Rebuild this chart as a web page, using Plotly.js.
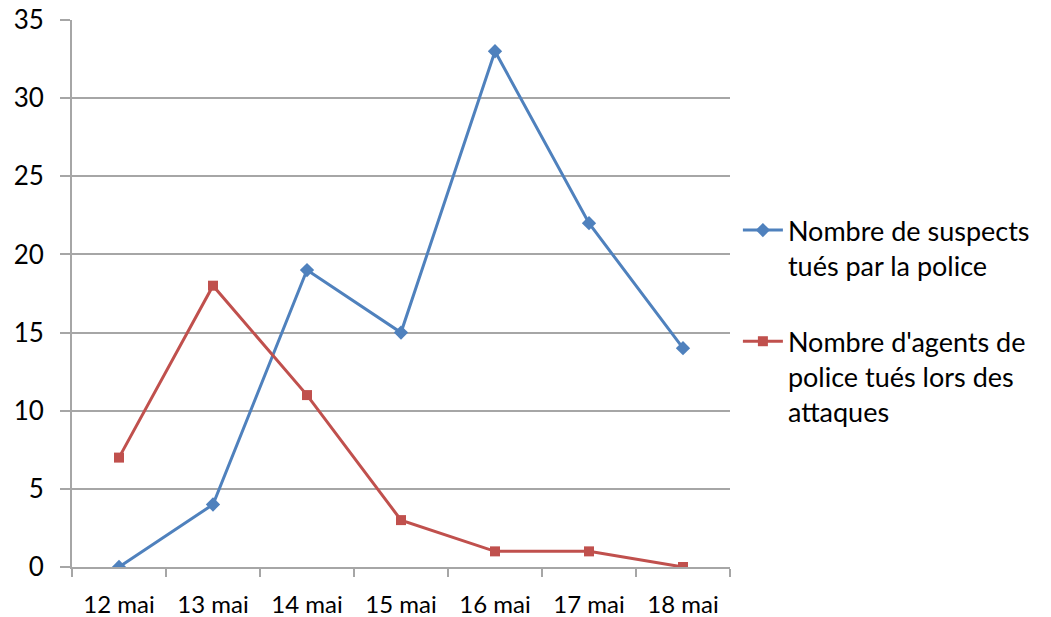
<!DOCTYPE html>
<html>
<head>
<meta charset="utf-8">
<script src="https://cdn.plot.ly/plotly-3.0.1.min.js"></script>
<style>html,body{margin:0;padding:0;background:#fff;}#chart{width:1051px;height:617px;}</style>
</head>
<body>
<div id="chart"></div>
<script>
const categories = ["12 mai", "13 mai", "14 mai", "15 mai", "16 mai", "17 mai", "18 mai"];
const suspectsKilled = [0, 4, 19, 15, 33, 22, 14];
const policeKilled = [7, 18, 11, 3, 1, 1, 0];
const seriesNames = ["Nombre de suspects<br>tués par la police", "Nombre d'agents de<br>police tués lors des<br>attaques"];
const yTicks = [0, 5, 10, 15, 20, 25, 30, 35];

const FONT = "Lato, 'Open Sans', sans-serif";

const traces = [
  {
    x: categories, y: suspectsKilled, name: seriesNames[0], type: "scatter", mode: "lines+markers",
    line: {color: "#4F81BD", width: 3},
    marker: {symbol: "diamond", size: 11, color: "#4F81BD"},
    legendgroup: "a"
  },
  {
    x: categories, y: policeKilled, name: seriesNames[1], type: "scatter", mode: "lines+markers",
    line: {color: "#C0504D", width: 3},
    marker: {symbol: "square", size: 10, color: "#C0504D"},
    legendgroup: "b"
  }
];

const layout = {
  width: 1051, height: 617,
  margin: {l: 72, r: 321, t: 20, b: 50},
  paper_bgcolor: "#fff", plot_bgcolor: "#fff",
  font: {family: FONT, size: 24, color: "#000"},
  showlegend: true,
  legend: {
    x: 1.012, xanchor: "left", y: 0.66, yanchor: "top",
    font: {family: FONT, size: 27, color: "#000"},
    valign: "top", tracegroupgap: 38, itemwidth: 40,
    bgcolor: "rgba(0,0,0,0)"
  },
  xaxis: {
    type: "category", range: [-0.5, 6.5],
    tickson: "boundaries", ticks: "outside", ticklen: 8, tickcolor: "#A6A6A6", tickwidth: 2,
    showline: true, linecolor: "#A6A6A6", linewidth: 2,
    showgrid: false, zeroline: false,
    tickfont: {family: FONT, size: 24, color: "#000"},
    ticklabelstandoff: 15
  },
  yaxis: {
    range: [0, 35], tickvals: yTicks, ticktext: yTicks.map(String),
    ticks: "outside", ticklen: 10, tickcolor: "#A6A6A6", tickwidth: 2,
    showline: true, linecolor: "#A6A6A6", linewidth: 2,
    showgrid: true, gridcolor: "#A6A6A6", gridwidth: 2,
    zeroline: false,
    tickfont: {family: FONT, size: 26, color: "#000"},
    ticklabelstandoff: 11
  }
};

Plotly.newPlot("chart", traces, layout, {displayModeBar: false, staticPlot: true});
</script>
</body>
</html>
